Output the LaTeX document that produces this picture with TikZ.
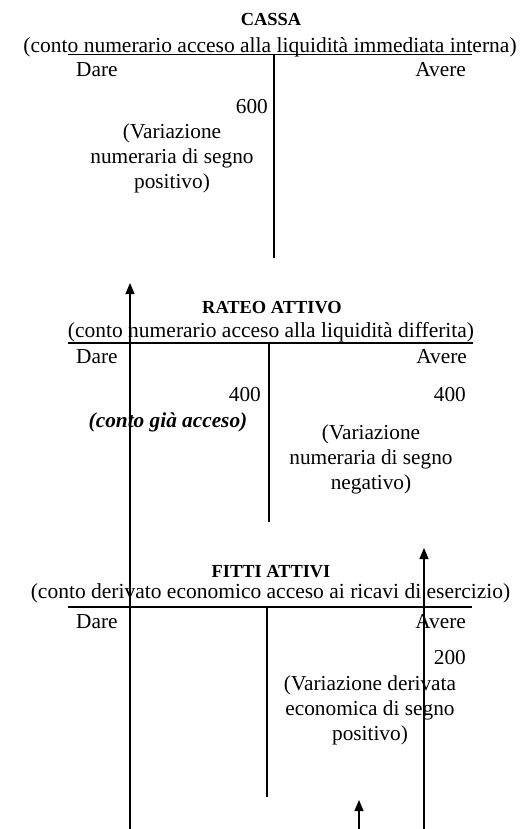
\documentclass[tikz,border=0pt]{standalone}
\usepackage{fontspec}
\setmainfont{Liberation Serif}
\usetikzlibrary{arrows.meta}
\tikzset{
  >={Triangle[width=9pt,length=11pt]},
  every node/.style={font=\fontsize{21.3}{25}\selectfont, inner sep=0pt},
  % --- nodes
  ttl/.style  = {font=\fontsize{18.4}{22}\selectfont\bfseries},
  sub/.style  = {font=\fontsize{21.5}{25}\selectfont},
  num/.style  = {anchor=east},
  note/.style = {align=center},
  % --- lines
  tline/.style = {line width=1.2pt},
  flow/.style  = {->, line width=1.2pt},
}
\begin{document}
\begin{tikzpicture}[x=1pt,y=-1pt]
  \useasboundingbox (0,0) rectangle (530,829);
  % CASSA
  \node[ttl] (cassa) at (271,20) {CASSA};
  \node[sub] (cassasub) at (270,47) {(conto numerario acceso alla liquidità immediata interna)};
  \draw[tline] (68,54.5) -- (472,54.5) (274,54.5) -- (274,258);
  \node[anchor=west] (cdare) at (76,70) {Dare};
  \node[anchor=east] (cavere) at (466,70) {Avere};
  \node[num] (c600) at (268,107) {600};
  \node[note] (cnote) at (172,158) {(Variazione\\numeraria di segno\\positivo)};
  % RATEO ATTIVO
  \node[ttl] (rateo) at (272,308) {RATEO ATTIVO};
  \node[sub] (rateosub) at (271,332) {(conto numerario acceso alla liquidità differita)};
  \draw[tline] (68,343) -- (473,343) (269,343) -- (269,522);
  \node[anchor=west] (rdare) at (76,357) {Dare};
  \node[anchor=east] (ravere) at (467,357) {Avere};
  \node[num] (rd400) at (261,395) {400};
  \node[num] (ra400) at (466,395) {400};
  \node (rgia) at (168,422) {\bfseries\itshape (conto già acceso)};
  \node[note] (rnote) at (371,459) {(Variazione\\numeraria di segno\\negativo)};
  % FITTI ATTIVI
  \node[ttl] (fitti) at (271,572) {FITTI ATTIVI};
  \node[sub] (fittisub) at (270.5,593) {(conto derivato economico acceso ai ricavi di esercizio)};
  \draw[tline] (68,607) -- (472,607) (267,607) -- (267,797);
  \node[anchor=west] (fdare) at (76,622) {Dare};
  \node[anchor=east] (favere) at (466,622) {Avere};
  \node[num] (fa200) at (466,658) {200};
  \node[note] (fnote) at (370,710) {(Variazione derivata\\economica di segno\\positivo)};
  % arrows
  \coordinate (a1s) at (130,829); \coordinate (a1e) at (130,283);
  \coordinate (a2s) at (424,829); \coordinate (a2e) at (424,548);
  \coordinate (a3s) at (359,829); \coordinate (a3e) at (359,800);
  \draw[flow] (a1s) -- (a1e);
  \draw[flow] (a2s) -- (a2e);
  \draw[flow] (a3s) -- (a3e);
\end{tikzpicture}
\end{document}
